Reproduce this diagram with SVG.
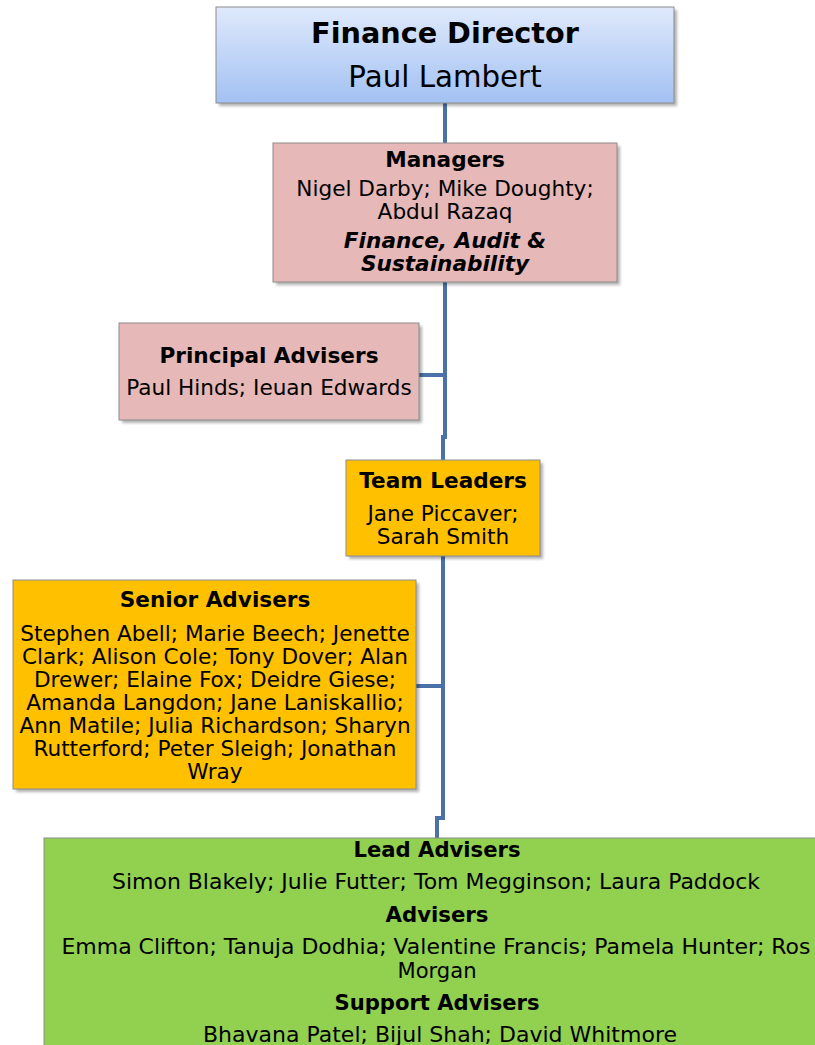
<svg xmlns="http://www.w3.org/2000/svg" width="815" height="1045" viewBox="0 0 815 1045">
<style>
text{font-family:"DejaVu Sans","Verdana",sans-serif;fill:#000;text-anchor:middle}
.b{font-weight:bold}
.bi{font-weight:bold;font-style:italic}
.t{font-size:21.6px}
.box{stroke:#8c8c8c;stroke-width:1}
.sh{fill:#000;opacity:0.3}
.c{fill:none;stroke:#4a72a8;stroke-width:4}
.cond{font-size:22px}
</style>
<defs>
<linearGradient id="g1" x1="0" y1="0" x2="0" y2="1">
<stop offset="0" stop-color="#dfe9fb"/>
<stop offset="1" stop-color="#a3c1f3"/>
</linearGradient>
<filter id="blur" x="-5%" y="-5%" width="110%" height="110%"><feGaussianBlur stdDeviation="1.5"/></filter>
</defs>
<g id="connectors">
<path class="c" d="M445,103 V143"/>
<path class="c" d="M445,282 V437 H443 V460"/>
<path class="c" d="M419,375 H445"/>
<path class="c" d="M443,556 V818 H437 V838"/>
<path class="c" d="M416,686 H443"/>
</g>
<g id="finance-director">
<rect class="sh" x="219" y="10" width="458" height="96" filter="url(#blur)"/>
<rect class="box" x="216" y="7" width="458" height="96" fill="url(#g1)"/>
<text class="b" x="445" y="43" font-size="28.7">Finance Director</text>
<text x="445" y="87" font-size="29.3">Paul Lambert</text>
</g>
<g id="managers">
<rect class="sh" x="276" y="146" width="344" height="139" filter="url(#blur)"/>
<rect class="box" x="273" y="143" width="344" height="139" fill="#e6b8b7"/>
<text class="b t" x="445" y="167">Managers</text>
<text class="t" x="445" y="196">Nigel Darby; Mike Doughty;</text>
<text class="t" x="445" y="219">Abdul Razaq</text>
<text class="bi t" x="445" y="248">Finance, Audit &amp;</text>
<text class="bi t" x="445" y="271">Sustainability</text>
</g>
<g id="principal-advisers">
<rect class="sh" x="122" y="326" width="300" height="97" filter="url(#blur)"/>
<rect class="box" x="119" y="323" width="300" height="97" fill="#e6b8b7"/>
<text class="b t" x="269" y="363">Principal Advisers</text>
<text class="t" x="269" y="395">Paul Hinds; Ieuan Edwards</text>
</g>
<g id="team-leaders">
<rect class="sh" x="349" y="463" width="194" height="96" filter="url(#blur)"/>
<rect class="box" x="346" y="460" width="194" height="96" fill="#ffc000"/>
<text class="b t" x="443" y="488">Team Leaders</text>
<text class="t" x="443" y="521">Jane Piccaver;</text>
<text class="t" x="443" y="544">Sarah Smith</text>
</g>
<g id="senior-advisers">
<rect class="sh" x="16" y="583" width="403" height="209" filter="url(#blur)"/>
<rect class="box" x="13" y="580" width="403" height="209" fill="#ffc000"/>
<text class="b t" x="215" y="607">Senior Advisers</text>
<text class="t" x="215" y="641">Stephen Abell; Marie Beech; Jenette</text>
<text class="t" x="215" y="664">Clark; Alison Cole; Tony Dover; Alan</text>
<text class="t" x="215" y="687">Drewer; Elaine Fox; Deidre Giese;</text>
<text class="t" x="215" y="710">Amanda Langdon; Jane Laniskallio;</text>
<text class="t" x="215" y="733">Ann Matile; Julia Richardson; Sharyn</text>
<text class="t" x="215" y="756">Rutterford; Peter Sleigh; Jonathan</text>
<text class="t" x="215" y="779">Wray</text>
</g>
<g id="lead-advisers">
<rect class="sh" x="47" y="841" width="780" height="220" filter="url(#blur)"/>
<rect class="box" x="44" y="838" width="780" height="220" fill="#92d050"/>
<text class="b cond" x="437" y="857" textLength="167" lengthAdjust="spacingAndGlyphs">Lead Advisers</text>
<text class="cond" x="436" y="889" textLength="648" lengthAdjust="spacingAndGlyphs">Simon Blakely; Julie Futter; Tom Megginson; Laura Paddock</text>
<text class="b cond" x="437" y="922" textLength="103" lengthAdjust="spacingAndGlyphs">Advisers</text>
<text class="cond" x="436" y="954" textLength="749" lengthAdjust="spacingAndGlyphs">Emma Clifton; Tanuja Dodhia; Valentine Francis; Pamela Hunter; Ros</text>
<text class="cond" x="437" y="978" textLength="79" lengthAdjust="spacingAndGlyphs">Morgan</text>
<text class="b cond" x="437" y="1010" textLength="205" lengthAdjust="spacingAndGlyphs">Support Advisers</text>
<text class="cond" x="440" y="1042" textLength="474" lengthAdjust="spacingAndGlyphs">Bhavana Patel; Bijul Shah; David Whitmore</text>
</g>
</svg>
